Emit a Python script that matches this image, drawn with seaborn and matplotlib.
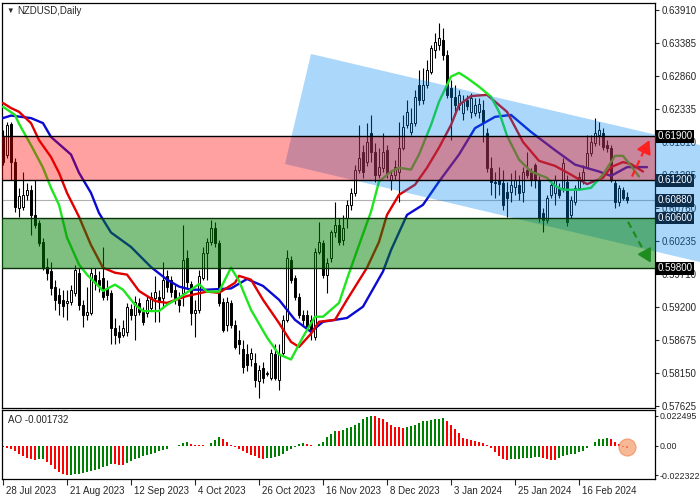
import numpy as np
import pandas as pd
import matplotlib
matplotlib.use("Agg")
import matplotlib.pyplot as plt
import seaborn as sns
from matplotlib.patches import Polygon
from matplotlib.transforms import ScaledTranslation

# daily candles NZDUSD (28 Jul 2023 -> end Feb 2024)
opens = [0.6189, 0.6161, 0.6210, 0.6149, 0.6076, 0.6078, 0.6097, 0.6105, 0.6065, 0.6052,
         0.6022, 0.5982, 0.5975, 0.5951, 0.5938, 0.5930, 0.5925, 0.5927, 0.5941, 0.5973,
         0.5922, 0.5905, 0.5909, 0.5970, 0.5962, 0.5965, 0.5949, 0.5941, 0.5885, 0.5879,
         0.5874, 0.5878, 0.5916, 0.5906, 0.5925, 0.5911, 0.5909, 0.5917, 0.5933, 0.5935,
         0.5933, 0.5967, 0.5962, 0.5946, 0.5930, 0.5940, 0.5997, 0.5955, 0.5909, 0.5914,
         0.5965, 0.6005, 0.6022, 0.6044, 0.6021, 0.5927, 0.5890, 0.5925, 0.5890, 0.5866,
         0.5851, 0.5843, 0.5835, 0.5830, 0.5800, 0.5822, 0.5812, 0.5806, 0.5843, 0.5803,
         0.5846, 0.5898, 0.5994, 0.5965, 0.5935, 0.5906, 0.5906, 0.5898, 0.5871, 0.6006,
         0.6021, 0.5970, 0.5997, 0.6037, 0.6049, 0.6025, 0.6060, 0.6081, 0.6100, 0.6137,
         0.6165, 0.6149, 0.6196, 0.6165, 0.6129, 0.6140, 0.6168, 0.6121, 0.6129, 0.6134,
         0.6172, 0.6208, 0.6197, 0.6211, 0.6272, 0.6248, 0.6272, 0.6293, 0.6328, 0.6335,
         0.6343, 0.6320, 0.6267, 0.6253, 0.6240, 0.6227, 0.6248, 0.6229, 0.6227, 0.6229,
         0.6232, 0.6196, 0.6140, 0.6118, 0.6121, 0.6116, 0.6102, 0.6102, 0.6110, 0.6113,
         0.6102, 0.6137, 0.6134, 0.6145, 0.6121, 0.6068, 0.6057, 0.6097, 0.6100, 0.6108,
         0.6108, 0.6118, 0.6065, 0.6086, 0.6108, 0.6121, 0.6141, 0.6164, 0.6180, 0.6192,
         0.6196, 0.6176, 0.6172, 0.6116, 0.6086, 0.6105, 0.6094]
highs = [0.6200, 0.6213, 0.6213, 0.6156, 0.6108, 0.6134, 0.6116, 0.6113, 0.6121, 0.6057,
         0.6029, 0.5997, 0.5990, 0.5962, 0.5949, 0.5946, 0.5946, 0.5954, 0.5986, 0.5981,
         0.5930, 0.5951, 0.5981, 0.5981, 0.5975, 0.6014, 0.5962, 0.5946, 0.5901, 0.5890,
         0.5898, 0.5925, 0.5924, 0.5936, 0.5933, 0.5919, 0.5938, 0.5943, 0.5967, 0.5946,
         0.5990, 0.5978, 0.5968, 0.5954, 0.5943, 0.6049, 0.6009, 0.5960, 0.5930, 0.5978,
         0.6014, 0.6029, 0.6057, 0.6054, 0.6025, 0.5933, 0.5935, 0.5930, 0.5898, 0.5882,
         0.5866, 0.5859, 0.5854, 0.5846, 0.5827, 0.5831, 0.5816, 0.5851, 0.5859, 0.5859,
         0.5906, 0.6009, 0.6000, 0.5970, 0.5941, 0.5914, 0.5914, 0.5906, 0.6013, 0.6054,
         0.6025, 0.5997, 0.6041, 0.6086, 0.6060, 0.6065, 0.6089, 0.6108, 0.6145, 0.6208,
         0.6176, 0.6211, 0.6224, 0.6180, 0.6172, 0.6196, 0.6176, 0.6137, 0.6153, 0.6213,
         0.6224, 0.6248, 0.6235, 0.6264, 0.6296, 0.6299, 0.6312, 0.6335, 0.6355, 0.6370,
         0.6362, 0.6328, 0.6280, 0.6272, 0.6264, 0.6256, 0.6256, 0.6259, 0.6251, 0.6251,
         0.6248, 0.6203, 0.6157, 0.6134, 0.6141, 0.6137, 0.6118, 0.6132, 0.6137, 0.6129,
         0.6141, 0.6165, 0.6140, 0.6148, 0.6127, 0.6076, 0.6097, 0.6121, 0.6129, 0.6116,
         0.6156, 0.6129, 0.6095, 0.6113, 0.6134, 0.6145, 0.6192, 0.6192, 0.6219, 0.6213,
         0.6203, 0.6184, 0.6176, 0.6121, 0.6113, 0.6110, 0.6102]
lows = [0.6145, 0.6156, 0.6121, 0.6070, 0.6062, 0.6073, 0.6089, 0.6033, 0.6044, 0.6016,
        0.5978, 0.5962, 0.5938, 0.5914, 0.5906, 0.5903, 0.5898, 0.5922, 0.5936, 0.5914,
        0.5887, 0.5898, 0.5905, 0.5946, 0.5943, 0.5930, 0.5930, 0.5859, 0.5859, 0.5862,
        0.5870, 0.5873, 0.5898, 0.5866, 0.5905, 0.5890, 0.5903, 0.5912, 0.5895, 0.5895,
        0.5917, 0.5943, 0.5935, 0.5924, 0.5911, 0.5920, 0.5949, 0.5890, 0.5871, 0.5909,
        0.5962, 0.5962, 0.6017, 0.6014, 0.5920, 0.5878, 0.5880, 0.5885, 0.5851, 0.5843,
        0.5814, 0.5816, 0.5825, 0.5792, 0.5774, 0.5798, 0.5809, 0.5803, 0.5803, 0.5787,
        0.5841, 0.5895, 0.5957, 0.5930, 0.5901, 0.5890, 0.5882, 0.5866, 0.5866, 0.6002,
        0.5965, 0.5941, 0.5990, 0.6030, 0.6017, 0.6017, 0.6044, 0.6073, 0.6095, 0.6132,
        0.6124, 0.6143, 0.6149, 0.6118, 0.6124, 0.6134, 0.6124, 0.6105, 0.6121, 0.6086,
        0.6168, 0.6203, 0.6192, 0.6207, 0.6240, 0.6242, 0.6267, 0.6289, 0.6315, 0.6328,
        0.6312, 0.6251, 0.6184, 0.6224, 0.6232, 0.6216, 0.6232, 0.6219, 0.6223, 0.6219,
        0.6181, 0.6134, 0.6097, 0.6092, 0.6097, 0.6073, 0.6062, 0.6086, 0.6097, 0.6089,
        0.6086, 0.6124, 0.6111, 0.6108, 0.6054, 0.6038, 0.6052, 0.6092, 0.6081, 0.6092,
        0.6102, 0.6048, 0.6060, 0.6081, 0.6105, 0.6114, 0.6140, 0.6159, 0.6175, 0.6176,
        0.6168, 0.6165, 0.6118, 0.6076, 0.6079, 0.6089, 0.6084]
closes = [0.6149, 0.6208, 0.6149, 0.6078, 0.6095, 0.6097, 0.6105, 0.6065, 0.6049, 0.6021,
          0.5981, 0.5973, 0.5949, 0.5930, 0.5925, 0.5920, 0.5928, 0.5946, 0.5978, 0.5922,
          0.5905, 0.5911, 0.5973, 0.5957, 0.5954, 0.5935, 0.5938, 0.5885, 0.5874, 0.5870,
          0.5885, 0.5919, 0.5905, 0.5927, 0.5911, 0.5895, 0.5930, 0.5935, 0.5943, 0.5927,
          0.5962, 0.5951, 0.5943, 0.5933, 0.5922, 0.5994, 0.5959, 0.5909, 0.5914, 0.5967,
          0.6005, 0.6022, 0.6044, 0.6021, 0.5925, 0.5882, 0.5927, 0.5890, 0.5855, 0.5859,
          0.5823, 0.5827, 0.5846, 0.5803, 0.5819, 0.5806, 0.5813, 0.5846, 0.5806, 0.5843,
          0.5898, 0.5997, 0.5962, 0.5935, 0.5906, 0.5898, 0.5887, 0.5879, 0.6006, 0.6022,
          0.5970, 0.5989, 0.6037, 0.6049, 0.6022, 0.6044, 0.6081, 0.6100, 0.6137, 0.6156,
          0.6134, 0.6181, 0.6165, 0.6129, 0.6141, 0.6165, 0.6132, 0.6129, 0.6141, 0.6172,
          0.6205, 0.6229, 0.6211, 0.6253, 0.6248, 0.6272, 0.6296, 0.6331, 0.6340, 0.6347,
          0.6320, 0.6256, 0.6253, 0.6240, 0.6256, 0.6245, 0.6238, 0.6251, 0.6240, 0.6242,
          0.6213, 0.6140, 0.6118, 0.6116, 0.6114, 0.6081, 0.6092, 0.6113, 0.6121, 0.6100,
          0.6134, 0.6129, 0.6121, 0.6121, 0.6060, 0.6057, 0.6092, 0.6113, 0.6121, 0.6097,
          0.6148, 0.6054, 0.6089, 0.6108, 0.6126, 0.6134, 0.6164, 0.6181, 0.6196, 0.6200,
          0.6173, 0.6172, 0.6121, 0.6086, 0.6108, 0.6092, 0.6089]

# alligator lines (bar index, price)
jaw_bar = [0, 2, 7, 10, 12, 17, 19, 22, 24, 27, 32, 37, 41, 44, 47, 51, 57, 61, 65, 69,
           73, 77, 80, 86, 90, 95, 97, 101, 105, 109, 114, 118, 123, 127, 132, 138, 143,
           149, 152, 156, 161]
jaw = [0.6219, 0.6223, 0.6219, 0.6211, 0.6189, 0.6161, 0.6132, 0.6100, 0.6068, 0.6037,
       0.6014, 0.5982, 0.5962, 0.5951, 0.5946, 0.5946, 0.5948, 0.5963, 0.5952, 0.5930,
       0.5898, 0.5879, 0.5895, 0.5901, 0.5919, 0.5975, 0.6009, 0.6065, 0.6081, 0.6118,
       0.6161, 0.6203, 0.6221, 0.6224, 0.6197, 0.6168, 0.6145, 0.6134, 0.6127, 0.6141,
       0.6141]
teeth_bar = [0, 2, 4, 7, 9, 12, 14, 16, 19, 22, 25, 28, 31, 34, 38, 41, 46, 51, 54, 58,
             59, 62, 65, 69, 72, 74, 77, 79, 83, 86, 91, 94, 96, 99, 103, 106, 109, 112,
             114, 117, 121, 126, 130, 134, 138, 142, 146, 150, 152, 155, 157, 160]
teeth = [0.6243, 0.6235, 0.6229, 0.6211, 0.6184, 0.6157, 0.6132, 0.6100, 0.6062, 0.6017,
         0.5981, 0.5973, 0.5970, 0.5944, 0.5928, 0.5925, 0.5936, 0.5943, 0.5941, 0.5957,
         0.5968, 0.5962, 0.5930, 0.5893, 0.5863, 0.5855, 0.5876, 0.5895, 0.5898, 0.5930,
         0.5981, 0.6022, 0.6065, 0.6097, 0.6113, 0.6140, 0.6172, 0.6208, 0.6240, 0.6254,
         0.6256, 0.6229, 0.6181, 0.6151, 0.6143, 0.6129, 0.6114, 0.6124, 0.6141, 0.6149,
         0.6146, 0.6134]
lips_bar = [0, 3, 4, 7, 10, 12, 14, 16, 19, 21, 24, 25, 28, 30, 33, 35, 39, 41, 44, 47,
            49, 51, 54, 57, 59, 62, 66, 69, 72, 75, 78, 80, 84, 86, 89, 92, 94, 97, 99,
            102, 104, 107, 109, 112, 114, 116, 119, 122, 124, 126, 129, 132, 136, 138,
            140, 144, 147, 150, 153, 155, 157, 159]
lips = [0.6237, 0.6224, 0.6210, 0.6176, 0.6140, 0.6108, 0.6081, 0.6029, 0.5986, 0.5970,
        0.5951, 0.5944, 0.5954, 0.5946, 0.5922, 0.5912, 0.5912, 0.5922, 0.5933, 0.5946,
        0.5955, 0.5943, 0.5943, 0.5981, 0.5960, 0.5914, 0.5870, 0.5843, 0.5835, 0.5871,
        0.5903, 0.5903, 0.5925, 0.5963, 0.6017, 0.6070, 0.6118, 0.6134, 0.6140, 0.6137,
        0.6161, 0.6208, 0.6245, 0.6285, 0.6291, 0.6283, 0.6269, 0.6253, 0.6229, 0.6191,
        0.6153, 0.6134, 0.6124, 0.6111, 0.6105, 0.6105, 0.6108, 0.6129, 0.6159, 0.6159,
        0.6143, 0.6126]

# awesome oscillator
ao = [-0.0010, -0.0015, -0.0025, -0.0042, -0.0062, -0.0074, -0.0089, -0.0098, -0.0106, -0.0103,
      -0.0101, -0.0123, -0.0148, -0.0172, -0.0197, -0.0212, -0.0223, -0.0219, -0.0214, -0.0209,
      -0.0204, -0.0197, -0.0189, -0.0182, -0.0172, -0.0162, -0.0153, -0.0138, -0.0140, -0.0143,
      -0.0145, -0.0128, -0.0113, -0.0101, -0.0091, -0.0081, -0.0071, -0.0062, -0.0052, -0.0042,
      -0.0032, -0.0022, -0.0002, -0.0005, 0.0007, 0.0020, 0.0025, 0.0012, 0.0007, 0.0005,
      0.0002, 0.0001, 0.0020, 0.0044, 0.0062, 0.0049, 0.0025, 0.0002, -0.0010, -0.0025,
      -0.0039, -0.0054, -0.0069, -0.0081, -0.0091, -0.0098, -0.0096, -0.0093, -0.0086, -0.0074,
      -0.0059, -0.0042, -0.0025, -0.0010, 0.0010, 0.0020, 0.0015, 0.0002, 0.0001, 0.0015,
      0.0030, 0.0062, 0.0089, 0.0113, 0.0108, 0.0116, 0.0133, 0.0140, 0.0157, 0.0172,
      0.0197, 0.0212, 0.0225, 0.0221, 0.0209, 0.0197, 0.0177, 0.0157, 0.0143, 0.0138,
      0.0135, 0.0140, 0.0148, 0.0157, 0.0172, 0.0182, 0.0189, 0.0194, 0.0202, 0.0204,
      0.0207, 0.0182, 0.0153, 0.0123, 0.0098, 0.0059, 0.0054, 0.0042, 0.0034, 0.0030,
      0.0017, 0.0005, -0.0020, -0.0044, -0.0074, -0.0098, -0.0106, -0.0103, -0.0101, -0.0098,
      -0.0096, -0.0093, -0.0091, -0.0086, -0.0084, -0.0093, -0.0098, -0.0106, -0.0111, -0.0093,
      -0.0081, -0.0069, -0.0064, -0.0059, -0.0049, -0.0039, -0.0020, -0.0002, 0.0030, 0.0047,
      0.0054, 0.0057, 0.0047, 0.0030, 0.0010, -0.0007, -0.0017]

date_labels = ["28 Jul 2023", "21 Aug 2023", "12 Sep 2023", "4 Oct 2023", "26 Oct 2023",
               "16 Nov 2023", "8 Dec 2023", "3 Jan 2024", "25 Jan 2024", "16 Feb 2024"]
price_labels = ["0.63910", "0.63385", "0.62860", "0.62335", "0.61810", "0.61285", "0.60760",
                "0.60235", "0.59710", "0.59200", "0.58675", "0.58150", "0.57625"]

# levels / zones / channel
resist_zone = (0.6120, 0.6190)
support_zone = (0.5980, 0.6060)
last_price = 0.6088
channel = [(77, 0.6321), (174.25, 0.6176), (174.25, 0.5990), (70.5, 0.6146)]
level_boxes = [(0.6190, "0.61900", "black"), (0.6120, "0.61200", "#0c2c4c"),
               (last_price, "0.60880", "#0c2c4c"), (0.6060, "0.60600", "#0c2c4c"),
               (0.5980, "0.59800", "black")]

sns.set_style("white")
plt.rcParams["font.family"] = ["Liberation Sans", "DejaVu Sans"]
plt.rcParams["font.size"] = 7

df = pd.DataFrame({"o": opens, "h": highs, "l": lows, "c": closes})
df["bar"] = np.arange(len(df))
up = df["c"] >= df["o"]

fig = plt.figure(figsize=(7, 5), dpi=100)
ax = fig.add_axes([2 / 700, 1 - 408 / 500, 653 / 700, 405 / 500])
ax2 = fig.add_axes([2 / 700, 1 - 479 / 500, 653 / 700, 69 / 500])

# candles
ax.vlines(df["bar"], df["l"], df["h"], color="black", lw=0.8, zorder=2)
body = (df["c"] - df["o"]).where((df["c"] - df["o"]).abs() > 0.00005, 0.00005)
ax.bar(df["bar"], body, bottom=df["o"], width=0.6,
       color=np.where(up, "white", "black"), edgecolor="black", linewidth=0.7, zorder=2.1)

ax.axhline(last_price, color="#b0b0b0", lw=0.8, zorder=1.5)

# alligator
sns.lineplot(x=jaw_bar, y=jaw, color="#0a0ad2", lw=1.7, ax=ax, zorder=3)
sns.lineplot(x=teeth_bar, y=teeth, color="#e00000", lw=1.7, ax=ax, zorder=3)
sns.lineplot(x=lips_bar, y=lips, color="#1ee61e", lw=1.7, ax=ax, zorder=3)

# channel + zones
ax.add_patch(Polygon(channel, closed=True, fc=(0, 0.53, 0.94), alpha=0.33, ec="none",
                     zorder=4, clip_on=False))
ax.axhspan(*resist_zone, color=(1, 0, 0), alpha=0.37, lw=0, zorder=5)
ax.axhspan(*support_zone, color=(0, 0.5, 0), alpha=0.5, lw=0, zorder=5)
for v in resist_zone:
    ax.axhline(v, color="black", lw=1, zorder=6)
for v in support_zone:
    ax.axhline(v, color="#0b330b", lw=1, zorder=6)

# forecast arrows
ax.plot([157.25, 160.9], [0.6126, 0.6176], ls=(0, (3, 2)), color="#ff2020", lw=1.6, zorder=7)
ax.annotate("", xy=(161.9, 0.6188), xytext=(160.6, 0.6170),
            arrowprops=dict(arrowstyle="-|>,head_length=0.8,head_width=0.45", color="#ff2020",
                            lw=1.4, mutation_scale=10), zorder=7)
ax.plot([156.25, 161.3], [0.6054, 0.5995], ls=(0, (3, 2)), color="#1e8c1e", lw=1.6, zorder=7)
ax.annotate("", xy=(162.3, 0.5985), xytext=(161.0, 0.6000),
            arrowprops=dict(arrowstyle="-|>,head_length=0.8,head_width=0.45", color="#1e8c1e",
                            lw=1.4, mutation_scale=10), zorder=7)

# axes setup main
ax.set_xlim(-0.25, 163)
ax.set_ylim(0.57578, 0.64021)
ax.yaxis.tick_right()
ax.set_yticks(0.63910 - 0.00525 * np.arange(len(price_labels)))
ax.set_yticklabels(price_labels)
ax.tick_params(axis="y", direction="out", length=3, width=0.8, pad=2, labelsize=7, right=True)
ax.tick_params(axis="x", bottom=False, labelbottom=False)
ax.set_xlabel("")
ax.set_ylabel("")
for s in ax.spines.values():
    s.set_color("black")
    s.set_linewidth(0.9)

for y, txt, col in level_boxes:
    ax.text(163.6, y, txt, color="white", fontsize=7, va="center", ha="left", zorder=10,
            clip_on=False, bbox=dict(boxstyle="square,pad=0.15", fc=col, ec="none"))

fig.text(6 / 700, 1 - 11 / 500, "\u25bc", fontsize=5.5, va="center", ha="left")
fig.text(17 / 700, 1 - 11 / 500, "NZDUSD,Daily", fontsize=7, va="center", ha="left")

# AO panel
ao_arr = np.array(ao)
rising = np.r_[False, np.diff(ao_arr) >= 0]
ax2.bar(np.arange(len(ao_arr)), ao_arr, width=0.7,
        color=np.where(rising, "#008000", "#ff0000"), lw=0)
ax2.scatter([156], [-0.0009], s=150, color="#f5a073", alpha=0.75, edgecolor="#f08a5a",
            lw=0.8, zorder=5)
ax2.set_xlim(-0.25, 163)
ax2.set_ylim(-0.0250, 0.0268)
ax2.yaxis.tick_right()
ax2.set_yticks([0.022495, 0.0, -0.022322])
ax2.set_yticklabels(["0.022495", "0.00", "-0.022322"])
ax2.tick_params(axis="y", direction="out", length=2, width=0.8, pad=1, labelsize=6.4, right=True)
ax2.set_xticks(np.arange(len(date_labels)) * 16)
ax2.set_xticklabels(date_labels, ha="left")
ax2.tick_params(axis="x", direction="out", length=4, width=0.8, pad=1, labelsize=7, bottom=True)
offset = ScaledTranslation(2 / 72, 0, fig.dpi_scale_trans)
for t in ax2.get_xticklabels():
    t.set_transform(t.get_transform() + offset)
for s in ax2.spines.values():
    s.set_color("black")
    s.set_linewidth(0.9)
ax2.text(0.009, 0.86, "AO -0.001732", transform=ax2.transAxes, fontsize=7, va="center")

fig.savefig("out.png", dpi=100)
plt.close(fig)
